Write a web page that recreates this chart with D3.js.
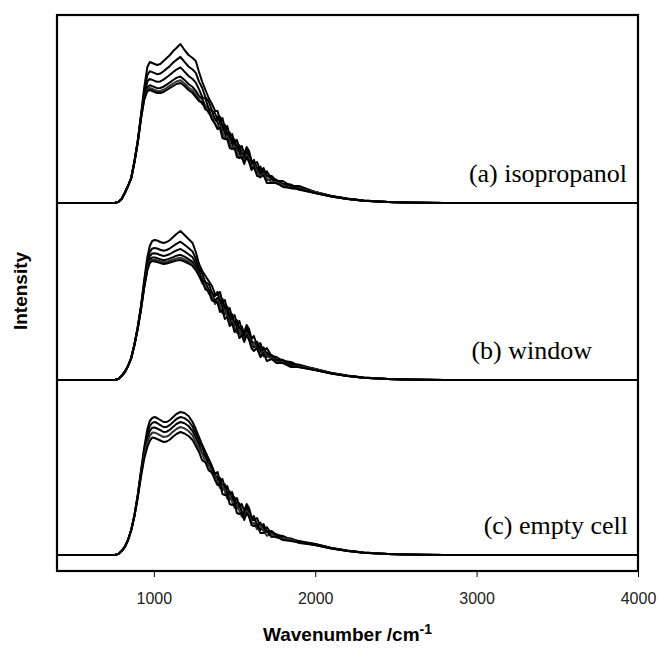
<!DOCTYPE html>
<html>
<head>
<meta charset="utf-8">
<script src="https://cdn.jsdelivr.net/npm/d3@7"></script>
<style>
  body { margin: 0; background: #fff; }
</style>
</head>
<body>
<div id="chart"></div>
<script>
// Wavenumber grid (cm-1) shared by every spectrum
const wavenumber = [400, 740, 760, 780, 800, 820, 840, 860, 880, 900,
  920, 940, 960, 975, 990, 1005, 1020, 1040, 1060, 1080,
  1100, 1120, 1140, 1165, 1190, 1215, 1240, 1260, 1280, 1300,
  1320, 1340, 1360, 1380, 1395, 1410, 1425, 1440, 1455, 1470,
  1485, 1500, 1515, 1530, 1545, 1560, 1575, 1590, 1605, 1620,
  1640, 1660, 1680, 1700, 1730, 1760, 1800, 1850, 1900, 2000,
  2100, 2200, 2300, 2450, 2600, 2800, 3200, 4000];

const xTicks = [1000, 2000, 3000, 4000];

const panelLabels = ["(a) isopropanol", "(b) window", "(c) empty cell"];
const panelOffsets = [352, 175, 0]; // vertical offset of each stack (a.u.)

// (a) isopropanol
const isopropanol = [
  [0,0,0.3,1,4,10,17,25, 42,62,88,115,136,141,140,139,138,139,142,145,148,152,155,159,153,148,145,142,131, 121,113,105,99,92,
   92,83,85,75,77,67,69,60,63,54,57,49,56,52,42,39,41,32,35,27, 27,22,22,17,17, 11,7,4.5,2.5,1,0.4,0.1,0,0],
  [0,0,0.3,1,4,10,17,25, 42,61.3,86.7,111,128,131.8,130.8,129.8,128.8,129.4,131.8,134.4,137.1,140.5,143.1,146.1,141.1,136.5,133.5,130.1,121.4, 115,105.5,101.5,92.5,89.5,
   83.2,86.2,76.2,78.4,68.4,70.6,60.8,63.8,54.8,57.8,48.8,47,54,49.8,40.2,43.2,33.4,36.4,27.6,31.6, 24,23.2,19.2,18.4,14.4, 11,7,4.3,2.4,1,0.4,0.1,0,0],
  [0,0,0.3,1,4,10,17,25, 41.5,60.8,85.6,107.8,121.6,124.2,123.2,122.2,121.2,121.6,123.4,125.8,128.2,131,133.4,135.6,131.4,127,124,120.4,113.6, 106,104,94.5,92,83,
   86.4,80.4,73.4,75.8,68.8,62.2,64.6,58.6,52.6,55.6,49.6,45,52,47.6,38.4,41.4,34.8,28.8,32.2,27.2, 25,21.4,18.4,17.8,14.8, 10,6.8,4.2,2.3,0.9,0.3,0.1,0,0],
  [0,0,0.3,1,4,10,17,25, 41,60.3,84.7,105,116,117.8,116.8,115.8,114.8,115,116.3,118.4,120.6,123,125.1,126.6,123.1,119,116,112.1,106.9, 104,96.5,94,85.5,83.5,
   80.6,74.6,76.6,70.2,63.2,65.8,59.4,53.4,56.4,50.4,44.4,43,50,45.4,36.6,36.6,30.2,33.2,27.8,22.8, 24,19.6,18.6,17.2,13.2, 10,6.6,4.1,2.2,0.9,0.3,0.1,0,0],
  [0,0,0.3,1,4,10,17,25, 41,60.1,84.3,103.8,113.7,115,114,113,112,112,113.2,115.2,117.3,119.5,121.5,122.7,119.5,115.5,112.5,108.5,104, 99,98,89.5,87.5,79,
   74.8,77.8,70.8,64.6,66.6,60.4,54.2,57.2,51.2,45.2,48.2,41,48,43.2,34.8,37.8,31.6,25.6,29.4,24.4, 21,20.8,17.8,14.6,14.6, 11,6.6,4,2.3,0.9,0.3,0.1,0,0],
  [0,0,0.3,1,4,10,17,25, 41,60,84,103,112,113,112,111,110,110,111,113,115,117,119,120,117,113,110,106,102, 100.5,93.5,91.5,83.5,79,
   74,75,65,64,64,55,54,55,46,45,46,39,46,41,33,36,27,26,28,20, 20,20,16,15,14, 10,6.5,4,2.2,0.9,0.3,0.1,0,0]
];

// (b) window
const windowCell = [
  [0,0,0.3,1,4,8,14,22, 36,53,74,100,123,134,139,140,139.5,138,137,138,140,143,146,149,145,141,137,128,116, 109,104,99,94,86,
   85,88,78,80,70,72,62,65,56,59,50,48,55,51,41,44,34,37,28,32, 24,23,19,18,14, 11,7,4.5,2.5,1,0.4,0.1,0,0],
  [0,0,0.3,1,4,8,14,22, 35.6,52.3,72.5,97,118.2,127.7,131.6,132,131.5,130.2,129.2,130,131.7,134,136.2,138.3,135.2,132,128.5,121.3,111.6, 106,98,96,87.5,84,
   88.2,79.2,81.2,71.4,73.4,63.6,65.8,56.8,59.8,50.8,53.8,46,53,48.8,39.2,36.2,38.4,29.4,32.6,24.6, 25,20.2,20.2,15.4,15.4, 11,7,4.3,2.4,1,0.4,0.1,0,0],
  [0,0,0.3,1,4,8,14,22, 35.4,51.8,71.5,95,115,123.5,126.6,126.7,126.2,125,124,124.7,126,127.8,129.6,131,128.6,125.8,122.7,116.8,108.6, 100,98,90,87.5,79,
   82.4,76.4,78.4,71.8,64.8,67.2,60.6,54.6,57.6,51.6,45.6,44,51,46.6,37.4,37.4,30.8,33.8,28.2,23.2, 24,19.4,18.4,16.8,12.8, 10,6.8,4.2,2.3,0.9,0.3,0.1,0,0],
  [0,0,0.3,1,4,8,14,22, 35.2,51.4,70.7,93.4,112.3,120.1,122.6,122.4,121.9,120.8,119.8,120.4,121.6,122.9,124.3,125.2,123.3,120.9,118.1,113.2,106.2, 100.5,92.5,90.5,81.5,80,
   76.6,79.6,72.6,66.2,68.2,61.8,55.4,58.4,52.4,46.4,49.4,42,49,44.4,35.6,32.6,35.2,29.2,23.8,27.8, 23,18.6,18.6,14.2,14.2, 10,6.6,4.1,2.2,0.9,0.3,0.1,0,0],
  [0,0,0.3,1,4,8,14,22, 35.1,51.2,70.3,92.6,111,118.4,120.6,120.2,119.7,118.7,117.7,118.2,119.3,120.5,121.6,122.3,120.6,118.5,115.8,111.4,105, 96.5,94.5,86.5,83.5,76,
   79.8,73.8,66.8,69.6,62.6,56.4,59.2,53.2,47.2,50.2,44.2,40,47,42.2,33.8,36.8,30.6,24.6,28.4,23.4, 22,17.8,17.8,13.6,13.6, 11,6.6,4,2.3,0.9,0.3,0.1,0,0],
  [0,0,0.3,1,4,8,14,22, 35,51,70,92,110,117,119,118.5,118,117,116,116.5,117.5,118.5,119.5,120,118.5,116.5,114,110,104, 98.5,90.5,88.5,79.5,78.5,
   77,68,70,61,63,54,57,48,51,42,45,38,45,40,32,29,32,23,27,19, 21,17,17,13,13, 10,6.5,4,2.2,0.9,0.3,0.1,0,0]
];

// (c) empty cell
const emptyCell = [
  [0,0,0.3,1,4,8,15,25, 40,60,84,107,126,134,137,138,137,135,133,133,135,138,141,143,142,139,133,126,118, 110,103,96,89,81,
   83,73,76,67,69,60,63,54,57,48,51,44,51,47,38,35,37,28,31,23, 24,20,19,15,14, 11,7,4.5,2.5,1,0.4,0.1,0,0],
  [0,0,0.3,1,4,8,15,25, 39.8,59.3,82.5,104.3,121.5,129,132.1,133,132,129.9,128,128.1,130.1,133.1,136,138,136.9,134,128.5,121.8,114.3, 108,98.5,95,85.5,81,
   74.8,77,67.8,70.8,60.8,63.8,54.8,57.8,48.8,51.8,42.8,41.8,48.8,44.8,36,39,29.3,32.5,23.8,27.8, 21,21,17.3,16.5,13, 11,7,4.3,2.4,1,0.4,0.1,0,0],
  [0,0,0.3,1,4,8,15,25, 39.5,58.5,81,101.5,117,124,127.3,127.5,126.5,124.8,123,123.3,125.3,128.3,131,133,131.8,129,124,117.5,110.5, 101.5,98.5,89.5,86.5,77,
   78.5,72,65.5,68.5,61.5,55.5,58.5,52.5,46.5,49.5,43.5,39.5,46.5,42.5,34,37,30.5,25,28.5,23.5, 22,19.3,16.5,16,13.5, 10,6.8,4.2,2.3,0.9,0.3,0.1,0,0],
  [0,0,0.3,1,4,8,15,25, 39.3,57.8,79.5,98.8,112.5,119,122.4,122.3,121.3,119.6,118,118.4,120.4,123.4,126,128,126.6,124,119.5,113.3,106.8, 101,92.5,90,81.5,78.5,
   73.3,67,69.3,63.3,56.3,59.3,53.3,47.3,50.3,44.3,38.3,37.3,44.3,40.3,32,32,25.8,29.5,24.3,19.3, 21,17.4,17,15.5,12, 10,6.6,4.1,2.2,0.9,0.3,0.1,0,0],
  [0,0,0.3,1,4,8,15,25, 39,57,78,96,108,114,117.5,117,116,114.5,113,113.5,115.5,118.5,121,123,121.5,119,115,109,103, 94.5,92.5,84.5,82.5,74.5,
   70,71,61,60,60,51,50,51,42,41,42,35,42,38,30,29,30,22,22,24, 18,18.5,15,14,12.5, 10,6.5,4,2.2,0.9,0.3,0.1,0,0]
];

const panels = [isopropanol, windowCell, emptyCell];

// Dimensions
const width = 659;
const height = 648;
const marginTop = 15;
const marginRight = 21;
const marginBottom = 77;
const marginLeft = 57;

const svg = d3.create("svg")
  .attr("width", width)
  .attr("height", height)
  .attr("viewBox", [0, 0, width, height]);

d3.select("#chart").append(() => svg.node());

const x = d3.scaleLinear()
  .domain([400, 4000])
  .range([marginLeft, width - marginRight]);

const y = d3.scaleLinear()
  .domain([-16, 540])
  .range([height - marginBottom, marginTop]);

// right end of each panel label
const labelEnd = [627, 592, 628];

// spectra
panels.forEach((curves, p) => {
  const off = panelOffsets[p];
  const line = d3.line()
    .x((d, i) => x(wavenumber[i]))
    .y(d => y(off + d));
  svg.append("g")
    .selectAll("path")
    .data(curves)
    .join("path")
    .attr("fill", "none")
    .attr("stroke", (d, i) => i === curves.length - 2 ? "#333" : "#000")
    .attr("stroke-width", 2)
    .attr("stroke-linejoin", "round")
    .attr("d", line);

  svg.append("text")
    .attr("x", labelEnd[p])
    .attr("y", y(off) - 21)
    .attr("text-anchor", "end")
    .attr("font-family", "'Liberation Serif', 'Times New Roman', serif")
    .attr("font-size", 26)
    .attr("fill", "#000")
    .text(panelLabels[p]);
});

// frame
svg.append("rect")
  .attr("x", marginLeft)
  .attr("y", marginTop)
  .attr("width", width - marginLeft - marginRight)
  .attr("height", height - marginTop - marginBottom)
  .attr("fill", "none")
  .attr("stroke", "#000")
  .attr("stroke-width", 2.2);

// x axis
svg.append("g")
  .attr("transform", `translate(0,${height - marginBottom})`)
  .call(d3.axisBottom(x).tickValues(xTicks).tickSize(6).tickPadding(16).tickFormat(d3.format("d")))
  .call(g => g.select(".domain").remove())
  .call(g => g.selectAll(".tick line").attr("stroke", "#000"))
  .call(g => g.selectAll(".tick text")
    .attr("font-family", "'Liberation Sans', Arial, sans-serif")
    .attr("font-size", 16)
    .attr("fill", "#222"));

// axis titles
const xTitle = svg.append("text")
  .attr("x", (marginLeft + width - marginRight) / 2)
  .attr("y", 641)
  .attr("text-anchor", "middle")
  .attr("font-family", "'Liberation Sans', Arial, sans-serif")
  .attr("font-weight", "bold")
  .attr("font-size", 19)
  .attr("fill", "#000");
xTitle.append("tspan").text("Wavenumber /cm");
xTitle.append("tspan").attr("dy", -7).attr("font-size", 14).text("-1");

svg.append("text")
  .attr("transform", `translate(27,291) rotate(-90)`)
  .attr("text-anchor", "middle")
  .attr("font-family", "'Liberation Sans', Arial, sans-serif")
  .attr("font-weight", "bold")
  .attr("font-size", 19)
  .attr("fill", "#000")
  .text("Intensity");
</script>
</body>
</html>
